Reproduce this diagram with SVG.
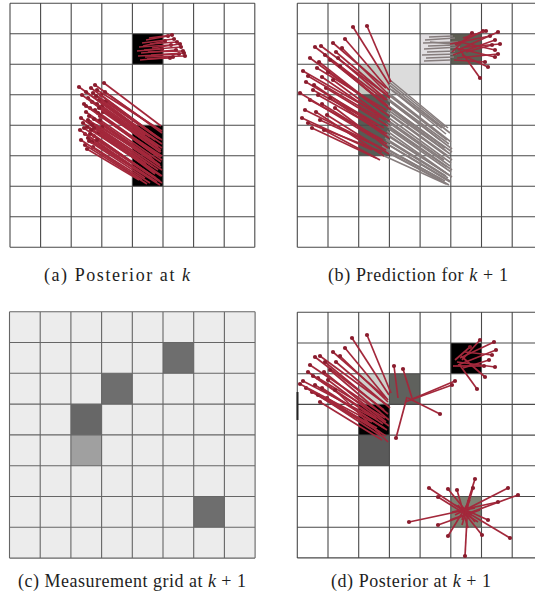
<svg xmlns="http://www.w3.org/2000/svg" width="535" height="602" viewBox="0 0 535 602">
<style>
.g{fill:none;stroke:#4a4a4a;stroke-width:1.1}
.gc{fill:none;stroke:#666;stroke-width:1.1}
.p{fill:none;stroke:#a3283b;stroke-width:1.7;marker-start:url(#dot)}
.q{fill:none;stroke:#867d7d;stroke-width:1.6}
.cap{font-family:"Liberation Serif","Times New Roman",serif;font-size:18px;fill:#1e1e1e}
.it{font-style:italic}
</style>
<defs>
<marker id="dot" markerWidth="6" markerHeight="6" refX="3" refY="3" markerUnits="userSpaceOnUse"><circle cx="3" cy="3" r="2.1" fill="#8a1c2d"/></marker>
</defs>
<rect width="535" height="602" fill="#fff"/>

<g id="panel-a">
<rect x="132.4" y="33.8" width="30.6" height="30.5" fill="#000"/>
<rect x="132.4" y="125.3" width="30.6" height="61" fill="#000"/>
<path class="g" d="M10 3.3V247.3M40.6 3.3V247.3M71.2 3.3V247.3M101.8 3.3V247.3M132.4 3.3V247.3M163 3.3V247.3M193.6 3.3V247.3M224.2 3.3V247.3M254.8 3.3V247.3M10 3.3H254.8M10 33.8H254.8M10 64.3H254.8M10 94.8H254.8M10 125.3H254.8M10 155.8H254.8M10 186.3H254.8M10 216.8H254.8M10 247.3H254.8"/>
<g id="particles-a">
<path class="p" d="M104 83L161 126"/><path class="p" d="M79 87L150 137"/><path class="p" d="M93 93L158 138"/><path class="p" d="M97 90L162 131"/>
<path class="p" d="M101 95L160 139"/><path class="p" d="M88 98L155 145"/><path class="p" d="M92 102L161 150"/><path class="p" d="M84 104L150 150"/>
<path class="p" d="M99 100L162 144"/><path class="p" d="M90 108L158 156"/><path class="p" d="M95 110L161 157"/><path class="p" d="M86 112L152 158"/>
<path class="p" d="M102 106L162 148"/><path class="p" d="M89 116L157 163"/><path class="p" d="M83 123L150 168"/><path class="p" d="M94 119L160 165"/>
<path class="p" d="M87 127L155 172"/><path class="p" d="M91 130L161 176"/><path class="p" d="M85 134L152 179"/><path class="p" d="M96 126L162 170"/>
<path class="p" d="M88 138L157 182"/><path class="p" d="M87 149L139 180"/><path class="p" d="M92 142L160 185"/><path class="p" d="M98 113L162 160"/>
<path class="p" d="M106 101L162 140"/><path class="p" d="M81 118L146 164"/><path class="p" d="M100 120L161 162"/><path class="p" d="M94 136L160 181"/>
<path class="p" d="M90 122L152 166"/><path class="p" d="M85 145L147 184"/><path class="p" d="M97 104L158 147"/><path class="p" d="M103 112L161 152"/>
<path class="p" d="M80 130L140 172"/><path class="p" d="M96 96L155 140"/><path class="p" d="M91 88L149 131"/><path class="p" d="M99 132L162 176"/>
<path class="p" d="M93 147L150 183"/><path class="p" d="M86 92L145 135"/><path class="p" d="M102 127L161 167"/><path class="p" d="M89 141L145 178"/>
<path class="p" d="M82 95L148 143"/><path class="p" d="M95 85L156 128"/><path class="p" d="M100 116L162 156"/><path class="p" d="M84 128L149 174"/>
<path class="p" d="M90 134L156 178"/><path class="p" d="M97 140L162 183"/><path class="p" d="M88 120L154 160"/><path class="p" d="M105 92L162 133"/>
<path class="p" d="M92 125L158 170"/><path class="p" d="M86 106L153 153"/><path class="p" d="M99 108L160 152"/><path class="p" d="M94 128L155 174"/>
<path class="p" d="M81 140L142 180"/>
<path class="p" d="M168 36L146 40"/><path class="p" d="M174 39L142 43"/><path class="p" d="M177 42L150 44"/><path class="p" d="M171 45L139 47"/>
<path class="p" d="M181 47L144 50"/><path class="p" d="M176 50L141 53"/><path class="p" d="M183 51L148 52"/><path class="p" d="M179 54L138 56"/>
<path class="p" d="M185 56L145 57"/><path class="p" d="M173 57L140 60"/><path class="p" d="M180 44L152 48"/><path class="p" d="M165 41L143 46"/>
<path class="p" d="M170 58L147 59"/><path class="p" d="M184 53L151 55"/><path class="p" d="M162 49L137 51"/><path class="p" d="M172 35L149 38"/>
</g>
</g>

<g id="panel-b">
<rect x="358.7" y="64.3" width="30.7" height="30.5" fill="#c3cac2"/>
<rect x="389.4" y="64.3" width="30.7" height="30.5" fill="#dcdcdc"/>
<rect x="358.7" y="94.8" width="30.7" height="61" fill="#565c55"/>
<rect x="420.1" y="33.8" width="30.7" height="30.5" fill="#e2dfe2"/>
<rect x="450.8" y="33.8" width="30.7" height="30.5" fill="#5d5d52"/>
<path class="g" d="M297.3 3.3V247.3M328 3.3V247.3M358.7 3.3V247.3M389.4 3.3V247.3M420.1 3.3V247.3M450.8 3.3V247.3M481.5 3.3V247.3M512.2 3.3V247.3M542.9 3.3V247.3M297.3 3.3H542.9M297.3 33.8H542.9M297.3 64.3H542.9M297.3 94.8H542.9M297.3 125.3H542.9M297.3 155.8H542.9M297.3 186.3H542.9M297.3 216.8H542.9M297.3 247.3H542.9"/>
<g id="old-b">
<path class="q" d="M390 80L448 128"/><path class="q" d="M388 84L450 133"/><path class="q" d="M389 88L446 134"/><path class="q" d="M387 92L451 142"/>
<path class="q" d="M390 96L447 140"/><path class="q" d="M388 100L452 149"/><path class="q" d="M386 104L445 148"/><path class="q" d="M389 108L450 154"/>
<path class="q" d="M387 112L448 156"/><path class="q" d="M390 115L452 160"/><path class="q" d="M386 119L444 160"/><path class="q" d="M388 122L450 166"/>
<path class="q" d="M387 126L447 167"/><path class="q" d="M389 129L451 172"/><path class="q" d="M385 133L446 173"/><path class="q" d="M388 136L452 177"/>
<path class="q" d="M386 140L448 178"/><path class="q" d="M387 144L450 182"/><path class="q" d="M384 148L445 181"/><path class="q" d="M386 151L449 185"/>
<path class="q" d="M380 154L446 184"/><path class="q" d="M382 146L441 179"/><path class="q" d="M391 102L440 140"/><path class="q" d="M392 90L442 128"/>
<path class="q" d="M389 82L445 127"/><path class="q" d="M387 98L449 144"/><path class="q" d="M388 110L446 151"/><path class="q" d="M389 118L451 163"/>
<path class="q" d="M387 131L449 175"/><path class="q" d="M385 138L446 176"/><path class="q" d="M384 142L450 181"/><path class="q" d="M388 106L452 152"/>
<path class="q" d="M386 124L452 170"/><path class="q" d="M383 150L447 184"/>
<path class="q" d="M425 40L455 38"/><path class="q" d="M423 43L458 42"/><path class="q" d="M428 46L456 45"/><path class="q" d="M424 49L460 47"/>
<path class="q" d="M427 52L455 51"/><path class="q" d="M422 55L457 54"/><path class="q" d="M430 42L452 44"/><path class="q" d="M426 58L454 57"/>
<path class="q" d="M429 37L453 36"/><path class="q" d="M424 61L450 60"/>
</g>
<g id="particles-b">
<path class="p" d="M353 27L389 84"/><path class="p" d="M367 26L391 82"/><path class="p" d="M315 47L385 100"/><path class="p" d="M321 46L388 96"/>
<path class="p" d="M333 43L386 88"/><path class="p" d="M345 39L389 90"/><path class="p" d="M303 71L380 115"/><path class="p" d="M317 68L386 110"/>
<path class="p" d="M313 90L384 128"/><path class="p" d="M318 95L387 134"/><path class="p" d="M308 123L382 152"/><path class="p" d="M320 120L386 150"/>
<path class="p" d="M325 55L384 104"/><path class="p" d="M330 60L388 106"/><path class="p" d="M310 58L378 108"/><path class="p" d="M336 52L390 98"/>
<path class="p" d="M322 77L385 120"/><path class="p" d="M328 72L389 116"/><path class="p" d="M306 82L377 124"/><path class="p" d="M314 85L381 130"/>
<path class="p" d="M326 88L388 126"/><path class="p" d="M310 100L383 140"/><path class="p" d="M322 104L387 144"/><path class="p" d="M330 98L389 138"/>
<path class="p" d="M305 110L378 146"/><path class="p" d="M316 112L384 156"/><path class="p" d="M327 115L389 154"/><path class="p" d="M312 128L376 158"/>
<path class="p" d="M333 80L390 122"/><path class="p" d="M340 66L391 110"/><path class="p" d="M300 93L374 138"/><path class="p" d="M324 130L380 160"/>
<path class="p" d="M338 58L387 100"/><path class="p" d="M342 48L388 94"/><path class="p" d="M319 62L383 112"/><path class="p" d="M308 76L379 118"/>
<path class="p" d="M335 108L388 148"/><path class="p" d="M302 118L372 150"/>
<path class="p" d="M483 31L455 45"/><path class="p" d="M498 32L458 50"/><path class="p" d="M495 40L453 55"/><path class="p" d="M495 50L460 42"/>
<path class="p" d="M495 57L456 48"/><path class="p" d="M488 67L462 55"/><path class="p" d="M480 78L460 50"/><path class="p" d="M472 33L452 52"/>
<path class="p" d="M500 44L465 47"/><path class="p" d="M490 36L450 44"/><path class="p" d="M498 54L457 58"/><path class="p" d="M486 31L463 38"/>
<path class="p" d="M485 62L454 60"/><path class="p" d="M492 45L466 52"/>
</g>
</g>

<g id="panel-c">
<rect x="9.5" y="311.7" width="245.6" height="246.4" fill="#ececec"/>
<rect x="163" y="342.5" width="30.7" height="30.8" fill="#6e6e6e"/>
<rect x="101.6" y="373.3" width="30.7" height="30.8" fill="#6e6e6e"/>
<rect x="70.9" y="404.1" width="30.7" height="30.8" fill="#676767"/>
<rect x="70.9" y="434.9" width="30.7" height="30.8" fill="#a0a0a0"/>
<rect x="193.7" y="496.5" width="30.7" height="30.8" fill="#6e6e6e"/>
<path class="gc" d="M9.5 311.7V558.1M40.2 311.7V558.1M70.9 311.7V558.1M101.6 311.7V558.1M132.3 311.7V558.1M163 311.7V558.1M193.7 311.7V558.1M224.4 311.7V558.1M255.1 311.7V558.1M9.5 311.7H255.1M9.5 342.5H255.1M9.5 373.3H255.1M9.5 404.1H255.1M9.5 434.9H255.1M9.5 465.7H255.1M9.5 496.5H255.1M9.5 527.3H255.1M9.5 558.1H255.1"/>
</g>

<g id="panel-d">
<rect x="450.8" y="343" width="30.7" height="30.7" fill="#000"/>
<rect x="358.7" y="373.7" width="30.7" height="30.7" fill="#cdd1cb"/>
<rect x="389.4" y="373.7" width="30.7" height="30.7" fill="#5f615d"/>
<rect x="358.7" y="404.4" width="30.7" height="30.7" fill="#000"/>
<rect x="358.7" y="435.1" width="30.7" height="30.7" fill="#5a5a5a"/>
<rect x="450.8" y="496.5" width="30.7" height="30.7" fill="#7d8474"/>
<path class="g" d="M297.3 312.3V557.9M328 312.3V557.9M358.7 312.3V557.9M389.4 312.3V557.9M420.1 312.3V557.9M450.8 312.3V557.9M481.5 312.3V557.9M512.2 312.3V557.9M542.9 312.3V557.9M297.3 312.3H542.9M297.3 343H542.9M297.3 373.7H542.9M297.3 404.4H542.9M297.3 435.1H542.9M297.3 465.8H542.9M297.3 496.5H542.9M297.3 527.2H542.9M297.3 557.9H542.9"/>
<path d="M297.5 392V420" stroke="#222" stroke-width="2"/>
<g id="particles-d">
<path class="p" d="M352 338L389 395"/><path class="p" d="M367 335L391 393"/><path class="p" d="M315 357L384 410"/><path class="p" d="M320 356L387 405"/>
<path class="p" d="M333 352L386 398"/><path class="p" d="M345 348L388 400"/><path class="p" d="M303 381L378 420"/><path class="p" d="M318 378L385 418"/>
<path class="p" d="M320 402L382 440"/><path class="p" d="M327 398L386 436"/><path class="p" d="M310 365L380 412"/><path class="p" d="M325 362L388 414"/>
<path class="p" d="M330 370L389 420"/><path class="p" d="M308 372L376 418"/><path class="p" d="M315 385L384 428"/><path class="p" d="M322 388L387 430"/>
<path class="p" d="M312 392L380 432"/><path class="p" d="M336 362L390 408"/><path class="p" d="M340 356L388 402"/><path class="p" d="M306 388L377 428"/>
<path class="p" d="M318 395L381 436"/><path class="p" d="M328 380L389 426"/><path class="p" d="M313 376L383 424"/><path class="p" d="M300 384L372 422"/>
<path class="p" d="M335 390L388 442"/><path class="p" d="M324 372L386 422"/>
<path class="p" d="M455 381L410 400"/><path class="p" d="M440 414L408 398"/><path class="p" d="M396 438L407 397"/><path class="p" d="M394 366L398 398"/>
<path class="p" d="M403 369L412 398"/><path class="p" d="M452 385L405 402"/>
<path class="p" d="M480 340L462 360"/><path class="p" d="M494 342L460 358"/><path class="p" d="M496 350L458 365"/><path class="p" d="M489 360L463 368"/>
<path class="p" d="M495 367L457 362"/><path class="p" d="M485 377L461 356"/><path class="p" d="M477 389L459 364"/><path class="p" d="M470 347L455 360"/>
<path class="p" d="M492 355L465 352"/><path class="p" d="M484 366L453 366"/>
<path class="p" d="M429 488L470 515"/><path class="p" d="M475 479L462 520"/><path class="p" d="M508 488L455 515"/><path class="p" d="M518 495L450 520"/>
<path class="p" d="M409 522L475 508"/><path class="p" d="M448 536L470 500"/><path class="p" d="M482 535L458 505"/><path class="p" d="M510 538L460 508"/>
<path class="p" d="M465 556L468 500"/><path class="p" d="M438 497L478 522"/><path class="p" d="M457 490L468 528"/><path class="p" d="M473 488L462 525"/>
<path class="p" d="M498 502L452 512"/><path class="p" d="M488 520L455 505"/><path class="p" d="M438 525L480 510"/><path class="p" d="M448 489L475 522"/>
</g>
</g>

<g id="captions">
<text class="cap" x="44" y="281" textLength="146" lengthAdjust="spacing">(a) Posterior at <tspan class="it">k</tspan></text>
<text class="cap" x="328" y="281" textLength="180" lengthAdjust="spacing">(b) Prediction for <tspan class="it">k</tspan> + 1</text>
<text class="cap" x="18" y="587" textLength="228" lengthAdjust="spacing">(c) Measurement grid at <tspan class="it">k</tspan> + 1</text>
<text class="cap" x="331" y="587" textLength="160" lengthAdjust="spacing">(d) Posterior at <tspan class="it">k</tspan> + 1</text>
</g>
</svg>
